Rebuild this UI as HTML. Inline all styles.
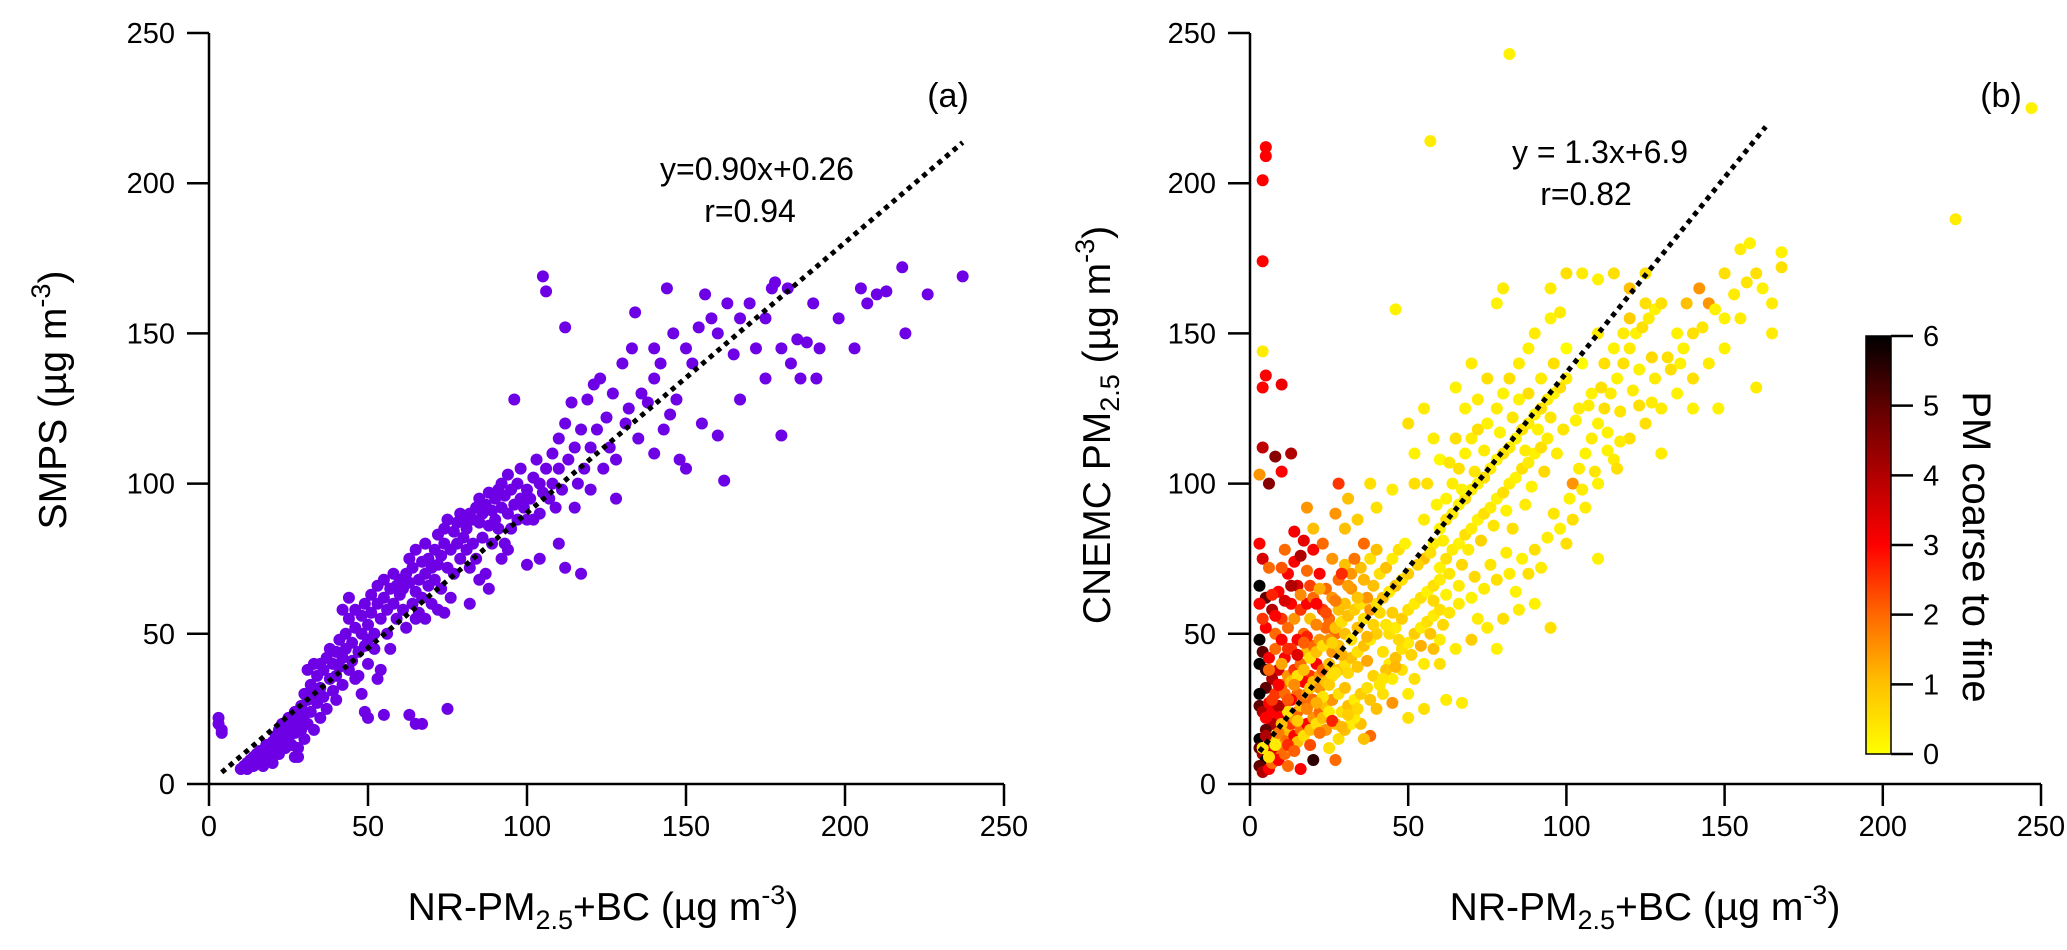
<!DOCTYPE html>
<html><head><meta charset="utf-8"><style>
html,body{margin:0;padding:0;background:#fff;}
svg{display:block;font-family:"Liberation Sans",Arial,sans-serif;}
</style></head><body>
<svg id="chart" width="2067" height="950" viewBox="0 0 2067 950" xmlns="http://www.w3.org/2000/svg">
<defs>
<linearGradient id="cbgrad" x1="0" y1="1" x2="0" y2="0">
<stop offset="0" stop-color="#ffff00"/><stop offset="0.17" stop-color="#ffc000"/><stop offset="0.33" stop-color="#ff6a00"/><stop offset="0.5" stop-color="#ff0000"/><stop offset="0.67" stop-color="#b00000"/><stop offset="0.83" stop-color="#600000"/><stop offset="1" stop-color="#000000"/>
</linearGradient>
</defs>
<g id="panelA"></g>
<g id="panelB"></g>
<g>
<rect x="1866" y="336" width="25" height="418" fill="url(#cbgrad)" stroke="#000" stroke-width="1.5"/>
<g id="cbticks"></g>
<text transform="translate(1963,547) rotate(90)" text-anchor="middle" font-size="40">PM coarse to fine</text>
</g>
<text x="948" y="107" font-size="34" text-anchor="middle">(a)</text>
<text x="2001" y="107" font-size="34" text-anchor="middle">(b)</text>
<text x="757" y="180" font-size="32" text-anchor="middle">y=0.90x+0.26</text>
<text x="750" y="222" font-size="32" text-anchor="middle">r=0.94</text>
<text x="1600" y="163" font-size="32" text-anchor="middle">y = 1.3x+6.9</text>
<text x="1586" y="205" font-size="32" text-anchor="middle">r=0.82</text>
<text transform="translate(66,400) rotate(-90)" text-anchor="middle" font-size="39">SMPS (µg m<tspan font-size="27" dy="-16">-3</tspan><tspan dy="16">)</tspan></text>
<text transform="translate(1110,425) rotate(-90)" text-anchor="middle" font-size="39">CNEMC PM<tspan font-size="27" dy="9">2.5</tspan><tspan dy="-9"> (µg m</tspan><tspan font-size="27" dy="-16">-3</tspan><tspan dy="16">)</tspan></text>
<text x="603" y="920" text-anchor="middle" font-size="39">NR-PM<tspan font-size="27" dy="9">2.5</tspan><tspan dy="-9">+BC (µg m</tspan><tspan font-size="27" dy="-16">-3</tspan><tspan dy="16">)</tspan></text>
<text x="1645" y="920" text-anchor="middle" font-size="39">NR-PM<tspan font-size="27" dy="9">2.5</tspan><tspan dy="-9">+BC (µg m</tspan><tspan font-size="27" dy="-16">-3</tspan><tspan dy="16">)</tspan></text>
</svg>
<script>
const ticksXY=[0,50,100,150,200,250];
const cbTicks=[0,1,2,3,4,5,6];
const fitA=[0.90,0.26], fitARange=[4,237];
const fitB=[1.3,6.9], fitBRange=[3,163];
const xa=[3,3,4,4,10,11,12,12,13,14,14,15,15,16,16,17,17,18,18,19,19,20,20,20,21,21,22,22,23,23,24,24,25,25,26,26,27,27,28,28,29,29,30,30,30,28,27,31,31,32,32,33,33,34,34,35,35,36,36,37,37,38,38,39,39,40,40,40,35,33,31,41,41,42,42,43,43,44,44,45,45,46,46,47,47,48,48,49,49,50,50,50,44,42,46,48,49,50,51,51,52,52,53,53,54,54,55,55,56,56,57,57,58,58,59,59,60,60,55,53,61,61,62,62,63,63,64,64,65,65,66,66,67,67,68,68,69,69,70,70,63,65,67,75,65,68,71,71,72,72,73,73,74,74,75,75,76,76,77,77,78,78,79,79,80,80,74,72,81,81,82,82,83,83,84,84,85,85,86,86,87,87,88,88,89,89,90,90,85,88,82,91,91,92,92,93,93,94,94,95,95,96,97,97,98,98,99,100,100,96,92,100,94,101,102,102,103,104,104,105,106,105,106,107,108,108,109,110,110,111,112,112,113,114,115,116,117,117,112,118,119,120,120,104,110,115,121,122,123,124,125,126,127,128,130,131,132,133,134,135,136,138,140,140,142,143,144,145,146,147,148,150,150,140,128,152,154,155,156,158,160,160,162,163,165,167,170,172,175,177,178,180,180,182,183,185,186,188,190,191,192,205,207,210,213,218,219,226,237,203,175,198,167];
const ya=[22,20,18,17,5,6,7,5,8,6,9,7,10,8,11,9,6,10,13,8,12,11,14,7,13,16,10,18,14,20,12,17,15,22,19,13,24,17,21,12,26,18,23,15,30,9,9,28,20,33,24,30,18,36,27,40,32,29,38,42,25,35,45,31,40,44,36,28,22,40,38,48,39,42,33,50,45,38,55,47,41,52,58,44,36,50,56,46,60,53,40,48,62,58,35,30,24,22,57,63,50,45,60,66,55,38,62,68,58,50,65,45,60,70,55,66,63,68,23,35,65,58,70,52,67,75,60,72,64,78,68,57,74,62,70,80,66,75,72,60,23,20,20,25,55,55,78,68,83,73,76,65,85,80,72,88,78,62,84,70,87,80,75,90,82,88,57,58,85,78,90,72,88,80,92,75,87,95,82,90,93,70,86,97,91,80,95,88,68,65,60,98,85,92,100,96,80,90,103,98,85,93,100,88,95,105,92,98,88,128,75,73,78,95,102,88,108,100,90,169,164,97,105,95,110,100,92,115,105,98,120,152,108,127,112,100,118,70,72,105,128,112,98,75,80,92,133,118,135,105,122,112,130,108,140,120,125,145,157,115,130,127,145,135,140,118,165,123,150,128,108,105,145,110,95,140,152,120,163,155,150,116,101,160,143,155,160,145,155,165,167,145,116,165,140,148,135,147,160,135,145,165,160,163,164,172,150,163,169,145,135,155,128];
const xb=[5,5,4,4,4,5,4,10,13,4,8,10,3,6,3,4,6,3,5,3,7,9,12,11,14,16,18,15,13,10,8,5,3,4,3,5,6,8,10,12,14,16,18,20,19,17,15,13,11,9,7,5,3,3,4,6,8,10,12,14,16,18,20,22,24,21,19,17,15,13,11,9,7,5,3,3,4,5,3,4,6,7,8,9,10,11,12,13,14,15,16,17,18,19,20,22,23,25,26,28,27,25,23,21,24,22,26,28,30,20,23,26,30,28,32,6,8,10,12,14,16,18,20,22,24,26,28,30,7,9,11,13,15,17,19,21,23,25,27,29,31,33,35,5,7,9,11,13,15,17,19,21,23,25,27,29,31,33,35,37,20,22,24,26,28,30,32,34,36,38,40,20,16,12,25,28,30,32,24,35,40,38,45,42,36,27,33,30,32,34,36,38,40,42,44,46,48,50,37,39,41,43,45,47,49,32,35,38,40,36,30,27,34,40,31,38,45,52,28,18,20,44,46,48,50,52,54,56,58,60,42,44,46,48,50,52,54,56,58,60,45,48,50,52,55,58,60,50,55,62,55,58,60,62,64,66,68,70,72,74,76,78,80,82,84,86,88,90,92,94,96,98,100,60,62,64,66,68,70,72,74,76,78,80,82,84,86,88,90,92,94,62,64,66,68,70,72,75,78,80,82,85,88,90,95,100,105,110,115,80,78,95,98,46,57,82,60,56,58,52,50,55,65,68,72,75,70,65,60,65,70,75,80,85,90,95,66,70,74,78,82,86,90,94,98,102,106,110,100,67,78,72,102,104,106,108,110,112,114,116,118,120,122,124,126,128,130,104,108,112,115,118,120,125,110,115,120,125,130,135,140,145,150,116,130,140,148,160,135,140,145,150,155,158,160,165,168,168,155,150,132,128,136,138,142,120,125,223,247,110,105,100,96,92,88,85,
4,6,8,5,7,9,6,4,8,11,13,7,10,14,17,12,15,18,21,24,27,19,16,22,29,33,31,36,34,26,29,31,34,37,39,41,43,47,45,43,41,39,37,23,25,27,21,18,15,12,14,10,17,9,12,14,19,22,26,29,31,34,38,42,46,51,54,57,61,63,
53,57,61,63,67,69,73,77,81,83,87,89,93,97,99,103,107,111,113,117,121,123,127,55,59,63,67,71,74,79,83,87,91,95,58,62,66,71,76,81,84,88,92,96,101,105,109,113,117,123,137,143,147,153,157,162,165,133,127];
const yb=[212,209,201,174,144,136,132,133,110,112,109,104,103,100,80,75,72,66,62,60,58,64,70,78,74,76,71,66,60,55,50,52,48,44,40,38,42,45,48,52,55,58,60,62,55,50,48,45,42,38,35,32,30,26,24,27,30,33,36,38,40,44,46,48,52,40,36,34,30,28,25,22,20,18,15,12,10,8,6,4,5,7,10,12,14,16,18,20,22,24,26,28,30,32,34,36,38,40,44,46,50,55,58,60,65,70,62,58,60,78,80,75,73,68,65,14,16,20,24,16,18,20,22,24,26,28,30,32,24,26,30,34,36,38,42,44,46,48,52,54,56,58,60,22,12,8,10,12,14,16,18,20,22,24,20,24,26,28,30,32,28,32,34,36,38,40,42,44,46,48,50,8,5,6,12,15,18,20,18,20,25,16,27,30,15,8,22,50,48,52,55,58,60,62,64,66,68,70,62,66,70,72,75,78,80,70,72,75,78,80,85,90,88,92,95,100,98,100,100,92,85,50,52,55,58,60,62,64,66,68,44,40,42,45,47,50,52,54,56,58,35,38,30,35,40,45,48,22,25,28,75,80,85,88,90,93,95,98,100,102,105,108,110,112,115,118,120,123,125,128,130,132,135,72,75,78,80,83,85,88,90,92,95,97,100,102,105,107,110,112,115,95,100,105,110,115,118,120,125,130,135,140,145,150,155,170,170,168,170,165,160,165,157,158,214,243,108,100,115,110,120,125,115,125,128,135,140,132,40,45,48,52,55,58,60,52,60,62,65,68,70,75,78,82,85,88,92,75,80,27,45,55,100,105,110,115,120,125,130,135,140,145,150,152,155,158,160,125,130,140,145,150,155,160,100,108,115,120,125,130,135,140,145,105,110,125,125,132,150,150,160,170,178,180,170,160,177,172,155,155,142,135,140,160,165,165,170,188,225,150,140,145,140,135,130,128,
12,9,13,16,28,33,38,55,56,61,66,63,72,84,81,45,43,49,53,57,61,66,63,65,70,75,66,68,62,47,43,37,39,41,36,33,38,48,57,53,57,53,49,29,33,37,27,25,21,28,33,40,47,17,13,11,13,17,21,19,23,25,28,35,39,43,46,50,53,57,
73,77,81,70,73,78,81,86,91,85,93,99,104,110,118,121,126,132,117,124,131,138,142,88,93,107,98,104,111,117,122,111,118,122,61,63,66,69,73,77,64,70,72,90,95,98,104,111,114,126,145,152,158,163,167,165,150,138,127];
const cb=[3,3,3,3,0.3,3,3,3.2,4,3.8,4.5,3,1.5,4.5,3,3.5,2,6,5,3,4,3,3,2,3,4,2,3.5,3,2.5,2,3,6,5,6,5.5,3,2,3,2,1.5,2.5,3,2,1,2,3,2.5,3,3.5,4,5,6,5,4,3,2.5,2,1.5,2.5,2,1,2,1.5,2,3,2.5,3,2,3,2.5,3,4,5,6,5,4,6,5,4,3,2,3,2,1.5,2,1,2.5,1.5,2,1,2,1.5,0.8,1,1.5,2,1,1.5,1,2,2,2.5,3,2,3,1.5,1,1,3,2,1.5,1,2,1.5,1,0.5,1,0.5,3,2,3,1.5,2,1,1.5,0.5,1,3,4,2,1,0.5,1,0.5,1,0.5,1.5,1,0.5,1,0.8,0.5,3,3.5,3,2,1.5,1,0.5,1,0.5,1,0.3,1,0.5,1,0.3,0.8,0.5,2,1.5,1,0.5,1,0.5,1,0.5,1,0.3,0.8,5.5,3,2,0.5,0.5,1,0.3,1.5,1,1,2,1.5,0.5,1,2,0.3,1,0.5,1,0.5,1.5,0.5,1,0.3,1,0.5,0.8,1.5,1,0.5,1,0.3,0.5,0.2,1.5,1,0.5,1,2,1,1.5,0.8,0.5,1,0.5,0.3,0.5,2.5,1.5,1,0.5,0.3,0.8,0.5,0.3,0.5,0.2,0.5,0.3,0.5,0.3,1,0.5,0.3,0.8,0.3,0.5,0.3,0.5,0.3,0.5,0.3,0.5,0.3,1,0.3,0.5,0.5,0.3,1,0.3,0.2,0.5,0.3,0.2,0.5,0.3,0.2,0.5,0.3,0.2,0.5,0.3,0.2,0.5,0.3,0.2,0.5,0.3,0.2,0.5,0.3,0.2,0.5,0.3,0.2,0.5,0.3,0.2,0.5,0.3,0.2,0.5,0.3,0.2,0.5,0.3,0.2,0.5,0.3,0.2,0.3,0.5,0.2,0.3,0.5,0.2,0.3,0.2,0.5,0.3,0.2,0.3,0.2,0.5,0.3,0.2,0.5,0.3,0.2,0.3,0.3,0.2,0.3,0.2,0.1,0.5,0.3,0.2,0.5,0.3,0.5,0.2,0.3,0.5,0.3,0.2,0.5,0.3,0.8,0.3,0.5,0.3,0.2,0.5,0.3,0.2,0.3,0.5,0.3,0.2,0.5,0.3,0.2,0.5,0.3,0.2,0.5,0.3,0.2,0.3,1.5,0.3,0.2,0.3,0.2,0.5,0.3,0.2,0.5,0.3,0.2,0.5,0.3,0.2,0.5,0.3,0.2,0.5,0.2,0.3,0.8,0.5,0.2,0.3,0.5,0.5,0.3,0.2,0.5,0.3,0.2,0.5,0.3,0.2,0.2,0.3,0.2,0.5,1.5,0.5,0.3,0.2,0.5,0.3,0.2,0.5,0.3,0.2,0.5,0.3,0.2,1,1.5,1,0.5,0.3,0.2,0.3,0.05,0.05,0.5,0.3,0.5,0.2,0.3,0.5,0.3,
4,2.5,3,2,2.5,3,3.5,4,2.7,2.2,3.1,3.3,2.6,3.4,2.7,1.7,2.3,1.8,2.4,1.6,1.2,2.6,1.9,1.4,1.1,0.9,0.7,1.2,0.6,0.9,1.3,0.7,0.4,0.9,0.6,0.8,0.4,0.6,0.7,1.1,0.4,0.8,0.5,1.2,1.7,0.8,2.2,1.6,1.3,2.1,1.8,2.6,2.1,2.3,1.9,2.7,1.1,0.8,0.6,0.9,0.4,1.1,0.7,1.2,0.9,0.6,0.4,0.7,0.5,0.3,
0.4,0.6,0.3,0.7,0.4,0.2,0.5,0.3,0.2,0.6,0.3,0.4,0.2,0.3,0.5,0.2,0.4,0.3,0.2,0.6,0.3,0.2,0.4,0.2,0.4,0.3,0.2,0.4,0.3,0.2,0.4,0.6,0.2,0.3,0.6,0.4,0.3,0.2,0.5,0.3,0.4,0.2,0.3,0.4,0.2,0.3,0.5,0.2,0.4,0.2,0.3,0.4,0.2,0.3,0.5,0.3,0.4,0.6,0.5];

const NS="http://www.w3.org/2000/svg";
const axA={x0:209,x1:1004,y0:784,y1:33};
const axB={x0:1250,x1:2041,y0:784,y1:33};
function sx(ax,v){return ax.x0+(ax.x1-ax.x0)*v/250;}
function sy(ax,v){return ax.y0+(ax.y1-ax.y0)*v/250;}
function mk(tag,attrs,parent){const e=document.createElementNS(NS,tag);for(const k in attrs)e.setAttribute(k,attrs[k]);parent.appendChild(e);return e;}
const stops=[[0,[255,255,0]],[1,[255,192,0]],[2,[255,106,0]],[3,[255,0,0]],[4,[176,0,0]],[5,[96,0,0]],[6,[0,0,0]]];
function cmap(v){v=Math.max(0,Math.min(6,v));const i=Math.min(5,Math.floor(v));const t=v-i;const a=stops[i][1],b=stops[i+1][1];return `rgb(${Math.round(a[0]+(b[0]-a[0])*t)},${Math.round(a[1]+(b[1]-a[1])*t)},${Math.round(a[2]+(b[2]-a[2])*t)})`;}

function drawAxes(g,ax,tag){
  const xl=mk('line',{x1:ax.x0,y1:ax.y0,x2:ax.x1,y2:ax.y0,stroke:'#000','stroke-width':2.5},g);
  
  
  const yl=mk('line',{x1:ax.x0,y1:ax.y0,x2:ax.x0,y2:ax.y1,stroke:'#000','stroke-width':2.5},g);
  
  
  ticksXY.forEach(t=>{
    const X=sx(ax,t);
    const tl=mk('line',{x1:X,y1:ax.y0,x2:X,y2:ax.y0+22,stroke:'#000','stroke-width':2.5},g);
    
    
    const tx=mk('text',{x:X,y:ax.y0+52,'font-size':29,'text-anchor':'middle'},g);tx.textContent=t;
    
    
    const Y=sy(ax,t);
    const tl2=mk('line',{x1:ax.x0-22,y1:Y,x2:ax.x0,y2:Y,stroke:'#000','stroke-width':2.5},g);
    
    
    const ty=mk('text',{x:ax.x0-34,y:Y+10,'font-size':29,'text-anchor':'end'},g);ty.textContent=t;
    
    
  });
}
function drawFit(g,ax,fit,rng,tag){
  const l=mk('line',{x1:sx(ax,rng[0]),y1:sy(ax,fit[0]*rng[0]+fit[1]),x2:sx(ax,rng[1]),y2:sy(ax,fit[0]*rng[1]+fit[1]),stroke:'#000','stroke-width':5,'stroke-dasharray':'5 5'},g);
  
  
}
const gA=document.getElementById('panelA'), gB=document.getElementById('panelB');
const ptsA=mk('g',{},gA);


xa.forEach((x,i)=>{const c=mk('circle',{cx:sx(axA,x),cy:sy(axA,ya[i]),r:6,fill:'#6e00e6'},ptsA);
  
  });
drawAxes(gA,axA,'a');
drawFit(gA,axA,fitA,fitARange,'a');
const ptsB=mk('g',{},gB);


xb.forEach((x,i)=>{const c=mk('circle',{cx:sx(axB,x),cy:sy(axB,yb[i]),r:6,fill:cmap(cb[i])},ptsB);
  
  });
drawAxes(gB,axB,'b');
drawFit(gB,axB,fitB,fitBRange,'b');
const cbg=document.getElementById('cbticks');
cbTicks.forEach(t=>{const Y=754-418*t/6;
  const l=mk('line',{x1:1891,y1:Y,x2:1913,y2:Y,stroke:'#000','stroke-width':2.5},cbg);
  
  
  const tx=mk('text',{x:1923,y:Y+10,'font-size':29},cbg);tx.textContent=t;
  
  });
</script>
</body></html>
